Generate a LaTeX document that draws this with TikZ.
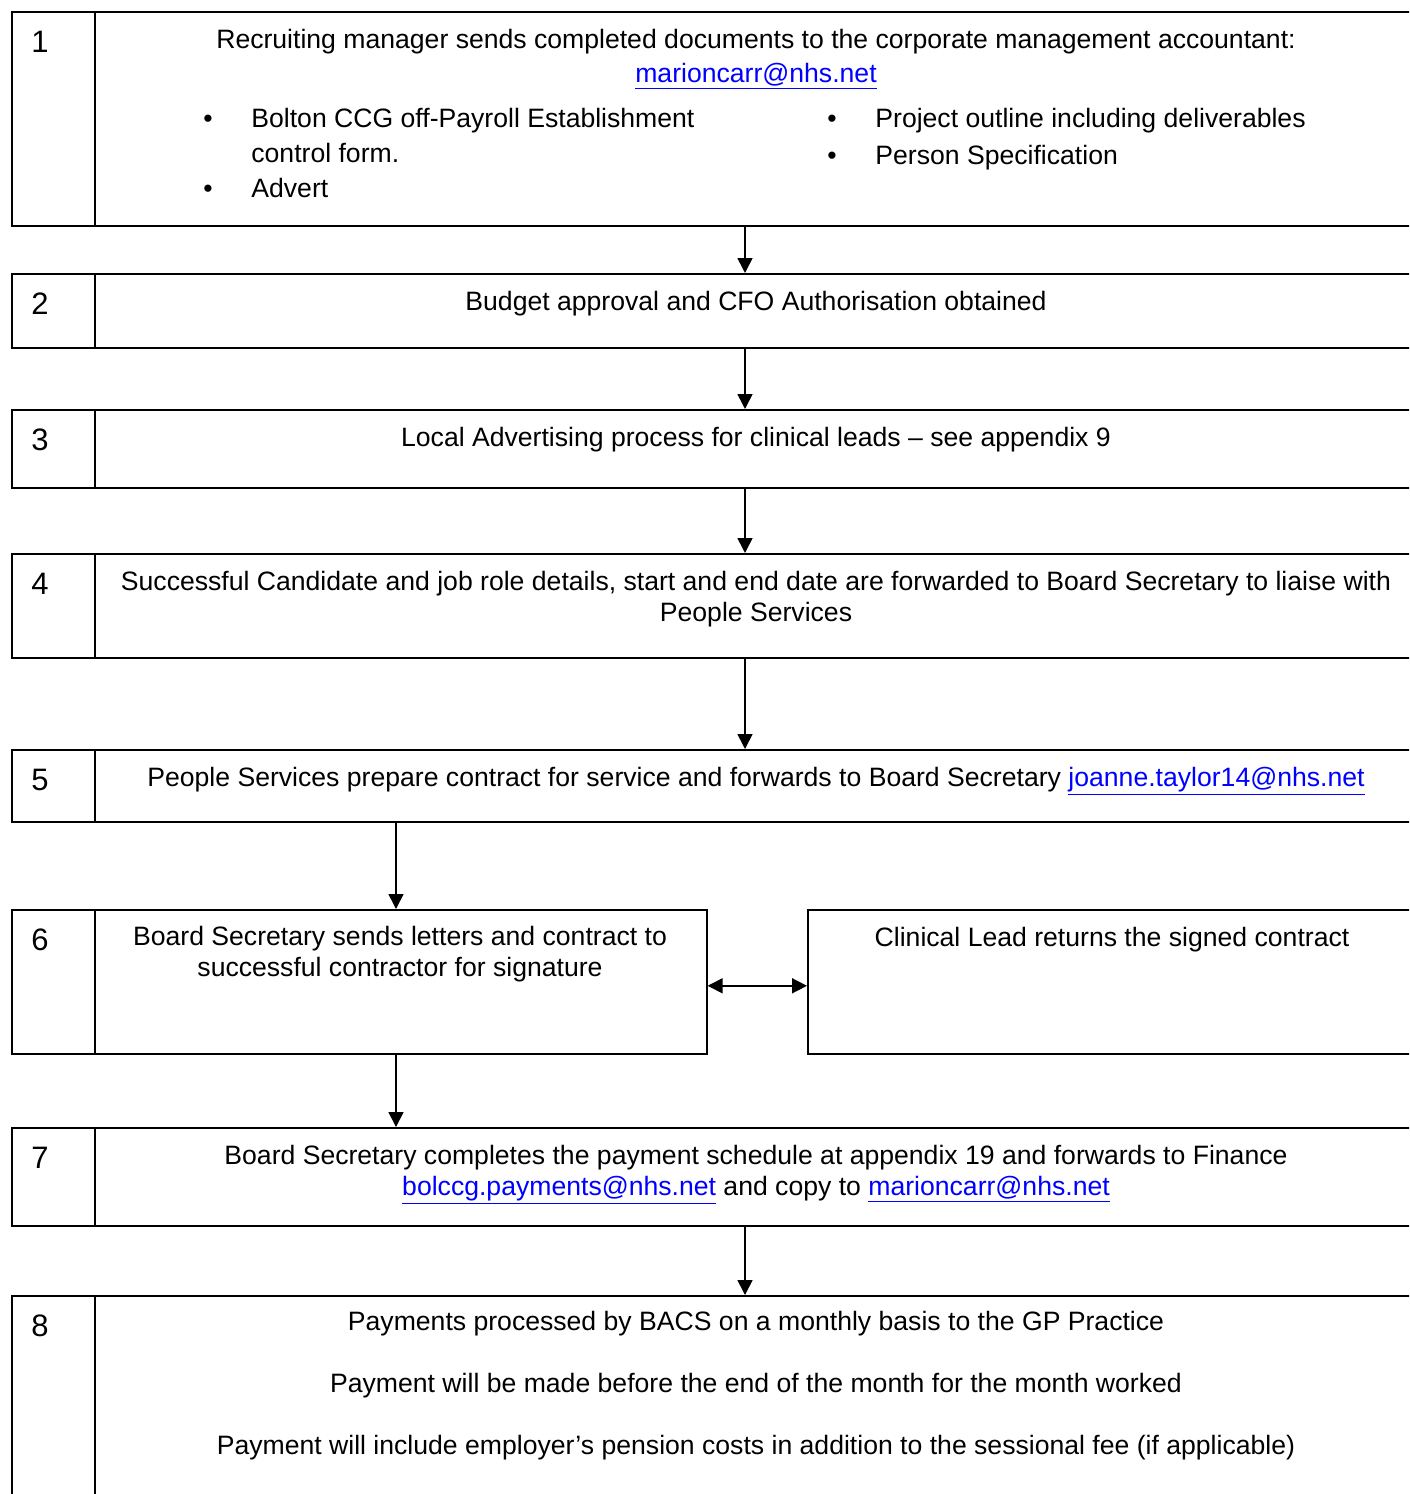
\documentclass[tikz,border=0pt]{standalone}
\usepackage{fontspec}
\setmainfont{Liberation Sans}
\usetikzlibrary{arrows.meta}

\newcommand\maillink[1]{\textcolor{blue}{\underline{#1}}}

\begin{document}
\begin{tikzpicture}[x=0.5pt,y=-0.5pt,
  stepbox/.style={draw,line width=0.8pt,rectangle,anchor=north west,inner sep=0pt},
  steptext/.style={font=\fontsize{13.3}{15.5}\selectfont,align=center,anchor=base,inner sep=0pt},
  stepnum/.style={font=\fontsize{15.5}{18}\selectfont,anchor=base,inner sep=0pt},
  flow/.style={-{Triangle[length=7.5pt,width=7.5pt]},line width=0.8pt}]
  \path[use as bounding box] (0,0) rectangle (1409,1494);
  \clip (0,0) rectangle (1409,1494);
  \coordinate (midcol) at (745,0);
  \coordinate (leftcol) at (396,0);
  \coordinate (divcol) at (95,0);

  \foreach \n/\top/\bot in {1/11/225, 2/273/347, 3/409/487, 4/553/657, 5/749/821, 7/1127/1225, 8/1295/1530} {
    \node[stepbox,minimum width=734pt,minimum height={(\bot-\top)*0.5pt}] (box\n) at (11,\top) {};
  }
  \node[stepbox,minimum width=347.5pt,minimum height=72pt] (box6) at (11,909) {};
  \node[stepbox,minimum width=336pt,minimum height=72pt] (sign) at (807,909) {};
  \foreach \n in {1,...,8} {
    \draw[line width=0.8pt] (box\n.north -| divcol) -- (box\n.south -| divcol);
    \node[stepnum] (num\n) at ([yshift=-20.75pt]box\n.north -| 40,0) {\n};
  }

  \node[steptext] (t1) at (756,48) {Recruiting manager sends completed documents to the corporate management accountant:};
  \node[steptext] (t1link) at (756,82) {\maillink{marioncarr@nhs.net}};
  \node[steptext] (dotA) at (208,127) {\textbullet};
  \node[steptext] (dotB) at (208,197) {\textbullet};
  \node[steptext] (dotC) at (832,127) {\textbullet};
  \node[steptext] (dotD) at (832,164) {\textbullet};
  \node[steptext,anchor=base west,align=left] (itemA) at (251,162) {Bolton CCG off-Payroll Establishment\\[2pt]control form.};
  \node[steptext,anchor=base west] (itemB) at (251,197) {Advert};
  \node[steptext,anchor=base west] (itemC) at (875,127) {Project outline including deliverables};
  \node[steptext,anchor=base west] (itemD) at (875,164) {Person Specification};

  \node[steptext] (t2) at (756,310) {Budget approval and CFO Authorisation obtained};
  \node[steptext] (t3) at (756,446) {Local Advertising process for clinical leads -- see appendix 9};
  \node[steptext] (t4) at (756,621) {Successful Candidate and job role details, start and end date are forwarded to Board Secretary to liaise with\\People Services};
  \node[steptext] (t5) at (756,786) {People Services prepare contract for service and forwards to Board Secretary \maillink{joanne.taylor14@nhs.net}};
  \node[steptext] (t6) at (400,976) {Board Secretary sends letters and contract to\\successful contractor for signature};
  \node[steptext] (t6b) at (1112,946) {Clinical Lead returns the signed contract};
  \node[steptext] (t7) at (756,1195) {Board Secretary completes the payment schedule at appendix 19 and forwards to Finance\\\maillink{bolccg.payments@nhs.net} and copy to \maillink{marioncarr@nhs.net}};
  \node[steptext] (t8) at (756,1454) {Payments processed by BACS on a monthly basis to the GP Practice\\[15.5pt]Payment will be made before the end of the month for the month worked\\[15.5pt]Payment will include employer’s pension costs in addition to the sessional fee (if applicable)};

  \draw[flow] (box1.south -| midcol) -- (box2.north -| midcol);
  \draw[flow] (box2.south -| midcol) -- (box3.north -| midcol);
  \draw[flow] (box3.south -| midcol) -- (box4.north -| midcol);
  \draw[flow] (box4.south -| midcol) -- (box5.north -| midcol);
  \draw[flow] (box5.south -| leftcol) -- (box6.north -| leftcol);
  \draw[flow] (box6.south -| leftcol) -- (box7.north -| leftcol);
  \draw[flow] (box7.south -| midcol) -- (box8.north -| midcol);
  \draw[flow,{Triangle[length=7.5pt,width=7.5pt]}-{Triangle[length=7.5pt,width=7.5pt]}] ([yshift=-2pt]box6.east) -- ([yshift=-2pt]sign.west);
\end{tikzpicture}
\end{document}
